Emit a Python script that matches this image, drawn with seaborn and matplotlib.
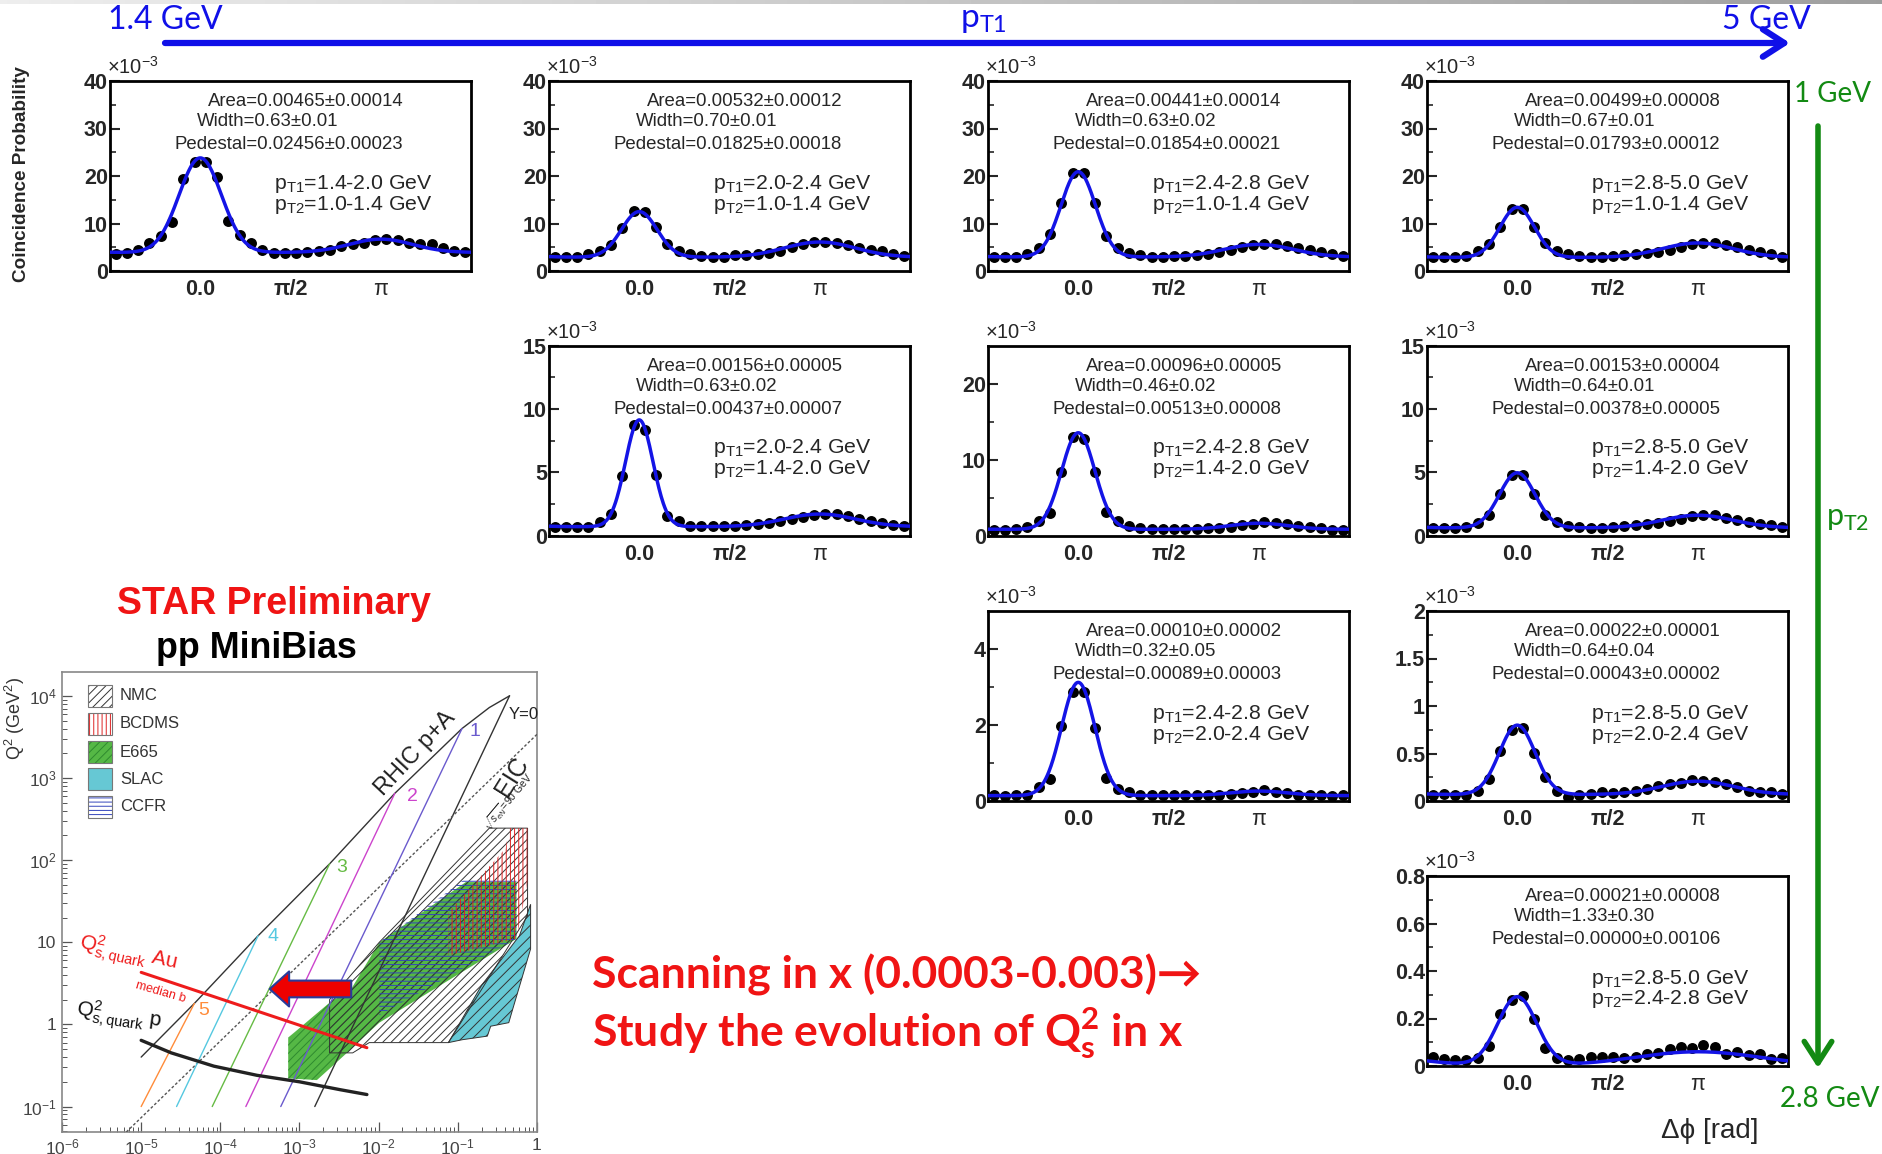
import numpy as np
import pandas as pd
import matplotlib
matplotlib.use("Agg")
import matplotlib.pyplot as plt
from matplotlib.patches import Rectangle
from matplotlib.ticker import LogLocator, NullFormatter
import seaborn as sns

# ------------------------------------------------------------------
# Di-hadron azimuthal correlations, pp minimum bias (values in 1e-3)
# ------------------------------------------------------------------
pt1_bins = ["1.4-2.0", "2.0-2.4", "2.4-2.8", "2.8-5.0",
            "2.0-2.4", "2.4-2.8", "2.8-5.0",
            "2.4-2.8", "2.8-5.0",
            "2.8-5.0"]
pt2_bins = ["1.0-1.4", "1.0-1.4", "1.0-1.4", "1.0-1.4",
            "1.4-2.0", "1.4-2.0", "1.4-2.0",
            "2.0-2.4", "2.0-2.4",
            "2.4-2.8"]
grid_row = [0, 0, 0, 0, 1, 1, 1, 2, 2, 3]
grid_col = [0, 1, 2, 3, 1, 2, 3, 2, 3, 3]

prob_14_20_x_10_14 = [3.6, 3.8, 4.5, 5.9, 7.3, 10.4, 19.4, 22.9, 22.9, 19.8, 10.6, 7.6, 6.0, 4.5, 3.7, 3.7,
                      3.7, 4.0, 4.2, 4.5, 5.2, 5.7, 6.0, 6.6, 6.7, 6.5, 6.0, 5.7, 5.6, 4.9, 4.3, 4.0]
prob_20_24_x_10_14 = [3.0, 2.9, 2.9, 3.5, 4.3, 5.4, 9.0, 12.7, 12.4, 9.2, 5.6, 4.3, 3.6, 3.1, 3.0, 3.0,
                      3.3, 3.3, 3.5, 3.8, 4.2, 5.0, 5.7, 6.1, 6.1, 5.9, 5.4, 4.9, 4.5, 4.2, 3.5, 3.1]
prob_24_28_x_10_14 = [3.0, 3.0, 3.0, 3.6, 4.9, 7.7, 14.3, 20.7, 20.7, 14.3, 7.3, 4.9, 3.7, 3.3, 3.0, 2.9,
                      3.1, 3.1, 3.3, 3.6, 4.0, 4.5, 5.0, 5.4, 5.7, 5.6, 5.2, 4.9, 4.5, 4.0, 3.5, 3.1]
prob_28_50_x_10_14 = [3.0, 3.0, 3.0, 3.1, 4.2, 5.7, 9.3, 13.1, 13.1, 9.3, 5.9, 4.2, 3.5, 3.1, 3.0, 3.0,
                      3.1, 3.3, 3.5, 3.7, 4.0, 4.5, 5.0, 5.7, 5.9, 5.8, 5.4, 5.1, 4.5, 4.0, 3.5, 3.0]
prob_20_24_x_14_20 = [0.65, 0.65, 0.65, 0.65, 1.1, 1.7, 4.7, 8.7, 8.35, 4.8, 1.57, 1.12, 0.78, 0.73, 0.73, 0.73,
                      0.78, 0.83, 0.91, 0.99, 1.12, 1.3, 1.43, 1.62, 1.7, 1.7, 1.57, 1.3, 1.17, 0.99, 0.86, 0.73]
prob_24_28_x_14_20 = [0.78, 0.74, 0.87, 1.09, 1.96, 2.96, 8.35, 12.96, 12.7, 8.35, 3.13, 1.96, 1.3, 0.96, 0.87, 0.87,
                      0.87, 0.87, 0.87, 0.96, 1.04, 1.17, 1.39, 1.52, 1.74, 1.65, 1.52, 1.3, 1.09, 0.96, 0.78, 0.74]
prob_28_50_x_14_20 = [0.6, 0.6, 0.6, 0.66, 1.0, 1.58, 3.3, 4.74, 4.74, 3.3, 1.63, 1.05, 0.74, 0.66, 0.6, 0.6,
                      0.66, 0.74, 0.79, 0.87, 1.0, 1.18, 1.32, 1.53, 1.63, 1.58, 1.39, 1.24, 1.1, 0.92, 0.79, 0.66]
prob_24_28_x_20_24 = [0.15, 0.13, 0.15, 0.17, 0.38, 0.57, 1.98, 2.88, 2.88, 1.92, 0.61, 0.32, 0.24, 0.17, 0.16, 0.16,
                      0.16, 0.16, 0.16, 0.17, 0.17, 0.19, 0.22, 0.24, 0.28, 0.24, 0.20, 0.17, 0.16, 0.15, 0.13, 0.15]
prob_28_50_x_20_24 = [0.063, 0.07, 0.063, 0.063, 0.11, 0.23, 0.53, 0.75, 0.77, 0.51, 0.25, 0.11, 0.04, 0.063, 0.07, 0.09,
                      0.08, 0.09, 0.105, 0.13, 0.16, 0.175, 0.186, 0.22, 0.21, 0.20, 0.175, 0.147, 0.11, 0.09, 0.09, 0.07]
prob_28_50_x_24_28 = [0.038, 0.028, 0.025, 0.025, 0.035, 0.086, 0.22, 0.28, 0.295, 0.20, 0.077, 0.035, 0.024, 0.028,
                      0.038, 0.038, 0.038, 0.032, 0.039, 0.049, 0.053, 0.07, 0.079, 0.077, 0.088, 0.079, 0.051, 0.06,
                      0.046, 0.049, 0.028, 0.035]
coincidence = [prob_14_20_x_10_14, prob_20_24_x_10_14, prob_24_28_x_10_14, prob_28_50_x_10_14,
               prob_20_24_x_14_20, prob_24_28_x_14_20, prob_28_50_x_14_20,
               prob_24_28_x_20_24, prob_28_50_x_20_24,
               prob_28_50_x_24_28]

area_val = [0.00465, 0.00532, 0.00441, 0.00499, 0.00156, 0.00096, 0.00153, 0.00010, 0.00022, 0.00021]
area_err = [0.00014, 0.00012, 0.00014, 0.00008, 0.00005, 0.00005, 0.00004, 0.00002, 0.00001, 0.00008]
width_val = [0.63, 0.70, 0.63, 0.67, 0.63, 0.46, 0.64, 0.32, 0.64, 1.33]
width_err = [0.01, 0.01, 0.02, 0.01, 0.02, 0.02, 0.01, 0.05, 0.04, 0.30]
pedestal_val = [0.02456, 0.01825, 0.01854, 0.01793, 0.00437, 0.00513, 0.00378, 0.00089, 0.00043, 0.00000]
pedestal_err = [0.00023, 0.00018, 0.00021, 0.00012, 0.00007, 0.00008, 0.00005, 0.00003, 0.00002, 0.00106]

# drawn fit-curve shape: near-side and away-side peaks on top of pedestal/2pi (1e-3, rad)
near_amp = [19.9, 9.6, 17.95, 10.55, 8.43, 12.7, 4.35, 2.98, 0.73, 0.29]
near_sigma = [0.37, 0.31, 0.30, 0.30, 0.24, 0.29, 0.31, 0.29, 0.31, 0.34]
away_amp = [2.8, 3.2, 2.65, 3.05, 1.0, 0.8, 1.0, 0.12, 0.14, 0.06]
away_sigma = [0.55, 0.62, 0.60, 0.62, 0.62, 0.50, 0.62, 0.50, 0.62, 1.10]

y_max = [40, 40, 40, 40, 15, 25, 15, 5, 2, 0.8]
y_major = [10, 10, 10, 10, 5, 10, 5, 2, 0.5, 0.2]

# ------------------------------------------------------------------
# Q^2 - x coverage inset
# ------------------------------------------------------------------
rhic_x = [1e-5, 4.7e-5, 3.0e-4, 2.4e-3, 1.6e-2, 0.113, 0.25, 0.45]
rhic_q2 = [0.4, 1.8, 12, 90, 650, 4000, 7200, 1.0e4]
ycut_x = [0.45, 1.56e-3]
ycut_q2 = [1.0e4, 0.1]
eic_x = [6.5e-6, 1.0]
eic_q2 = [0.049, 3400]
qs_au_x = [1e-5, 7.1e-3]
qs_au_q2 = [4.3, 0.52]
qs_p_x = [1e-5, 2.4e-5, 8.3e-5, 2.9e-4, 1e-3, 3.3e-3, 7.1e-3]
qs_p_q2 = [0.64, 0.45, 0.31, 0.24, 0.20, 0.16, 0.14]

rap_labels = ["1", "2", "3", "4", "5"]
rap_colors = ["#6a5acd", "#cc44cc", "#66bb44", "#55c8e0", "#ff8c3a"]
rap_x_top = [0.113, 0.016, 2.4e-3, 3.0e-4, 4.7e-5]
rap_q2_top = [4000, 650, 90, 12, 1.8]
rap_x_bot = [5.8e-4, 2.1e-4, 7.9e-5, 2.8e-5, 1.0e-5]
rap_q2_bot = [0.1, 0.1, 0.1, 0.1, 0.1]
rap_lab_x = [0.14, 0.0225, 2.9e-3, 4.0e-4, 5.2e-5]
rap_lab_q2 = [3700, 590, 81, 11.8, 1.46]

e665_x = [7.2e-4, 2.4e-3, 4.5e-3, 0.0102, 0.126, 0.55, 0.55, 0.0102, 2.6e-3, 1.66e-3, 7.2e-4]
e665_q2 = [0.69, 1.84, 2.7, 10, 54, 54, 11, 1.05, 0.31, 0.21, 0.22]
nmc_x = [2.4e-3, 4.7e-3, 7.6e-3, 0.076, 0.76, 0.76, 0.25, 0.0102, 2.4e-3]
nmc_q2 = [0.45, 0.45, 0.6, 0.6, 21, 245, 245, 10, 2.0]
bcdms_x = [0.076, 0.076, 0.40, 0.45, 0.76, 0.76, 0.55]
bcdms_q2 = [6.9, 23, 139, 245, 245, 54, 11]
ccfr_x = [0.0102, 0.126, 0.55, 0.55, 0.0102]
ccfr_q2 = [10, 60, 60, 11, 1.3]
slac_x = [0.076, 0.113, 0.236, 0.26, 0.44, 0.49, 0.83, 0.83, 0.6, 0.2]
slac_q2 = [0.6, 0.65, 0.72, 0.95, 1.05, 1.5, 8.3, 29, 12, 3.0]

# ------------------------------------------------------------------
W, H, DPI = 1883, 1154, 100
sns.set_theme(style="white")
plt.rcParams["font.family"] = ["Liberation Sans", "DejaVu Sans"]
plt.rcParams["mathtext.fontset"] = "custom"
plt.rcParams["mathtext.rm"] = "Liberation Sans"
plt.rcParams["mathtext.it"] = "Liberation Sans:italic"
plt.rcParams["mathtext.bf"] = "Lato:bold"
plt.rcParams["mathtext.sf"] = "Lato"
plt.rcParams["hatch.linewidth"] = 0.7

FIT_BLUE = "#1414e6"
SLIDE_BLUE = "#1010e8"
SLIDE_GREEN = "#138a13"
SLIDE_RED = "#f01414"

fig = plt.figure(figsize=(W / DPI, H / DPI), dpi=DPI)
fig.patch.set_facecolor("white")


def px_axes(left, top, w, h, **kw):
    return fig.add_axes([left / W, 1 - (top + h) / H, w / W, h / H], **kw)


PANEL_LEFT = [110, 549, 988, 1427]
PANEL_TOP = [81, 345.5, 611, 876]
PANEL_W, PANEL_H = 361, 190

edges = np.linspace(-np.pi / 2, 3 * np.pi / 2, 33)
dphi = 0.5 * (edges[:-1] + edges[1:])
curve_x = np.linspace(-np.pi / 2, 3 * np.pi / 2, 500)


def periodic_peak(x, mu, sig):
    return sum(np.exp(-0.5 * ((x - mu - 2 * np.pi * k) / sig) ** 2) for k in (-1, 0, 1))


for k in range(10):
    ax = px_axes(PANEL_LEFT[grid_col[k]], PANEL_TOP[grid_row[k]], PANEL_W, PANEL_H)
    base = pedestal_val[k] / (2 * np.pi) * 1e3
    fit = (base + near_amp[k] * periodic_peak(curve_x, 0.0, near_sigma[k])
           + away_amp[k] * periodic_peak(curve_x, np.pi, away_sigma[k]))
    pts = pd.DataFrame({"dphi": dphi, "prob": coincidence[k]})
    crv = pd.DataFrame({"dphi": curve_x, "prob": fit})
    sns.scatterplot(data=pts, x="dphi", y="prob", ax=ax, color="black", s=62,
                    linewidth=0, zorder=3)
    sns.lineplot(data=crv, x="dphi", y="prob", ax=ax, color=FIT_BLUE, lw=2.5,
                 zorder=4, estimator=None, sort=False)
    ax.set_xlim(-np.pi / 2, 3 * np.pi / 2)
    ax.set_ylim(0, y_max[k])
    ax.set_xlabel("")
    ax.set_ylabel("")
    for s in ax.spines.values():
        s.set_visible(True)
        s.set_linewidth(2.0)
        s.set_color("black")
    major = np.arange(0, y_max[k] + 1e-9, y_major[k])
    minor = np.arange(y_major[k] / 2, y_max[k], y_major[k])
    ax.set_yticks(major)
    ax.set_yticklabels([f"{v:g}" for v in major], fontweight="bold", fontsize=15.5)
    ax.set_yticks(minor, minor=True)
    ax.tick_params(axis="y", which="major", left=True, direction="in", length=7,
                   width=1.5, pad=1.5)
    ax.tick_params(axis="y", which="minor", left=True, direction="in", length=4, width=1.2)
    ax.set_xticks([0, np.pi / 2, np.pi])
    ax.set_xticklabels(["0.0", "π/2", "π"], fontsize=15.5)
    for lbl, wgt in zip(ax.get_xticklabels(), ["bold", "bold", "normal"]):
        lbl.set_fontweight(wgt)
    ax.tick_params(axis="x", length=0, pad=6)
    ax.annotate("×10$^{-3}$", xy=(0, 1), xycoords="axes fraction", xytext=(-2, 2),
                textcoords="offset points", ha="left", va="bottom", fontsize=14.5)
    ax.text(0.27, 0.89, f"Area={area_val[k]:.5f}±{area_err[k]:.5f}",
            transform=ax.transAxes, fontsize=13.4, va="center", ha="left")
    ax.text(0.24, 0.785, f"Width={width_val[k]:.2f}±{width_err[k]:.2f}",
            transform=ax.transAxes, fontsize=13.4, va="center", ha="left")
    ax.text(0.18, 0.665, f"Pedestal={pedestal_val[k]:.5f}±{pedestal_err[k]:.5f}",
            transform=ax.transAxes, fontsize=13.4, va="center", ha="left")
    ax.text(0.455, 0.46, r"p$_{\mathrm{T1}}$=" + pt1_bins[k] + " GeV",
            transform=ax.transAxes, fontsize=15.3, va="center", ha="left")
    ax.text(0.455, 0.35, r"p$_{\mathrm{T2}}$=" + pt2_bins[k] + " GeV",
            transform=ax.transAxes, fontsize=15.3, va="center", ha="left")

# ------------------------------------------------------------------
# Q^2 vs x inset
# ------------------------------------------------------------------
ins = px_axes(62, 672, 475, 460)
ins.set_xscale("log")
ins.set_yscale("log")
ins.set_xlim(1e-6, 1.0)
ins.set_ylim(10 ** -1.31, 10 ** 4.29)
ins.set_facecolor("white")
for s in ins.spines.values():
    s.set_visible(True)
    s.set_linewidth(1.2)
    s.set_color("#888888")

ins.fill(e665_x, e665_q2, facecolor="#55b845", edgecolor="#2f8a2f", hatch="////", lw=0, zorder=1)
ins.fill(slac_x, slac_q2, facecolor="#66c8d4", edgecolor="#333333", hatch="///", lw=0, zorder=1.5)
ins.fill(slac_x, slac_q2, facecolor="none", edgecolor="#333333", lw=0.7, zorder=1.6)
ins.fill(nmc_x, nmc_q2, facecolor="none", edgecolor="#333333", hatch="////", lw=0, zorder=2)
ins.fill(nmc_x, nmc_q2, facecolor="none", edgecolor="#333333", lw=0.7, zorder=2.1)
ins.fill(ccfr_x, ccfr_q2, facecolor="none", edgecolor="#3344bb", hatch="----", lw=0, zorder=2.5)
ins.fill(bcdms_x, bcdms_q2, facecolor="none", edgecolor="#dd2222", hatch="||||", lw=0, zorder=3)

ins.plot(rhic_x, rhic_q2, color="#333333", lw=1.0, zorder=4)
ins.plot(ycut_x, ycut_q2, color="#333333", lw=1.0, zorder=4)
ins.plot(eic_x, eic_q2, color="#555555", lw=1.0, ls=(0, (2, 1.5)), zorder=4)
for i in range(5):
    ins.plot([rap_x_top[i], rap_x_bot[i]], [rap_q2_top[i], rap_q2_bot[i]],
             color=rap_colors[i], lw=1.0, zorder=4)
    ins.text(rap_lab_x[i], rap_lab_q2[i], rap_labels[i], color=rap_colors[i],
             fontsize=14, ha="left", va="center", zorder=5)
ins.plot(qs_au_x, qs_au_q2, color="#ee1c1c", lw=2.2, zorder=5)
ins.plot(qs_p_x, qs_p_q2, color="#222222", lw=2.4, zorder=5)

ins.annotate("", xy=(4.2e-4, 2.7), xytext=(4.5e-3, 2.7),
             arrowprops=dict(arrowstyle="simple,head_length=1.0,head_width=1.8,tail_width=0.86",
                             fc="#ee0000", ec="#2a3a9a", lw=1.5, mutation_scale=14,
                             shrinkA=0, shrinkB=0), zorder=6)

ins.text(0.029, 1990, "RHIC p+A", fontsize=17, rotation=47, ha="center", va="center",
         color="#222222", zorder=5)
ins.text(0.44, 6000, "Y=0", fontsize=12, ha="left", va="center", color="#222222", zorder=5)
ins.text(0.49, 1030, "EIC", fontsize=18, rotation=58, ha="center", va="center",
         color="#222222", zorder=5)
ins.text(0.43, 508, r"$\sqrt{s_{eN}}$=90 GeV", fontsize=7.5, rotation=50, ha="center",
         va="center", color="#222222", zorder=5)
ins.text(1.6e-6, 8.5, r"Q$^{2}_{\mathrm{s,quark}}$ Au", fontsize=15, rotation=-12,
         rotation_mode="anchor", ha="left", va="baseline", color="#ee1c1c", zorder=5)
ins.text(1.74e-5, 2.44, "median b", fontsize=9, rotation=-16, ha="center", va="center",
         color="#ee1c1c", zorder=5)
ins.text(1.5e-6, 1.3, r"Q$^{2}_{\mathrm{s,quark}}$ p", fontsize=15, rotation=-8,
         rotation_mode="anchor", ha="left", va="baseline", color="#111111", zorder=5)

legend_names = ["NMC", "BCDMS", "E665", "SLAC", "CCFR"]
legend_fc = ["white", "white", "#55b845", "#66c8d4", "white"]
legend_hc = ["#333333", "#dd2222", "#2f8a2f", "#66c8d4", "#3344bb"]
legend_hatch = ["////", "||||", "////", None, "----"]
legend_y = [0.948, 0.887, 0.826, 0.767, 0.707]
for name, fc, hc, hat, yy in zip(legend_names, legend_fc, legend_hc, legend_hatch, legend_y):
    ins.add_patch(Rectangle((0.054, yy - 0.024), 0.051, 0.048, transform=ins.transAxes,
                            facecolor=fc, edgecolor=hc, hatch=hat, lw=0, zorder=6))
    ins.add_patch(Rectangle((0.054, yy - 0.024), 0.051, 0.048, transform=ins.transAxes,
                            facecolor="none", edgecolor="#777777", lw=0.8, zorder=6.1))
    ins.text(0.122, yy, name, transform=ins.transAxes, fontsize=12, color="#333333",
             ha="left", va="center", zorder=6)

ins.set_xticks([1e-6, 1e-5, 1e-4, 1e-3, 1e-2, 1e-1, 1.0])
ins.set_xticklabels([r"$10^{-6}$", r"$10^{-5}$", r"$10^{-4}$", r"$10^{-3}$", r"$10^{-2}$",
                     r"$10^{-1}$", "1"], fontsize=12.5, color="#444444")
ins.set_yticks([1e-1, 1, 10, 1e2, 1e3, 1e4])
ins.set_yticklabels([r"$10^{-1}$", "1", "10", r"$10^{2}$", r"$10^{3}$", r"$10^{4}$"],
                    fontsize=12.5, color="#444444")
ins.xaxis.set_minor_locator(LogLocator(base=10, subs=np.arange(2, 10), numticks=20))
ins.yaxis.set_minor_locator(LogLocator(base=10, subs=np.arange(2, 10), numticks=20))
ins.xaxis.set_minor_formatter(NullFormatter())
ins.yaxis.set_minor_formatter(NullFormatter())
ins.tick_params(which="major", direction="in", length=7, width=0.9, color="#555555",
                left=True, bottom=True, pad=4)
ins.tick_params(which="minor", direction="in", length=3.5, width=0.7, color="#555555",
                left=True, bottom=True)
ins.text(-0.1, 0.9, r"Q$^{2}$ (GeV$^{2}$)", transform=ins.transAxes, fontsize=13,
         color="#333333", rotation=90, ha="center", va="center")

# ------------------------------------------------------------------
# Slide annotations
# ------------------------------------------------------------------
ov = fig.add_axes([0, 0, 1, 1], zorder=10)
ov.set_axis_off()
ov.patch.set_alpha(0)
ov.imshow(np.linspace(0.93, 0.62, 256)[None, :], cmap="gray", vmin=0, vmax=1,
          extent=(0, W, 4, 0), aspect="auto")
ov.set_xlim(0, W)
ov.set_ylim(H, 0)

ov.annotate("", xy=(1790, 43), xytext=(165, 43),
            arrowprops=dict(arrowstyle="->,head_length=0.7,head_width=0.45", color=SLIDE_BLUE,
                            lw=4.5, mutation_scale=22, shrinkA=0, shrinkB=0))
ov.text(108, 20, "1.4 GeV", fontsize=23, family=["Lato", "DejaVu Sans"], color=SLIDE_BLUE,
        ha="left", va="center")
ov.text(960, 20, r"p$_{\mathsf{T1}}$", fontsize=24, family=["Lato", "DejaVu Sans"],
        color=SLIDE_BLUE, ha="left", va="center")
ov.text(1811, 20, "5 GeV", fontsize=23, family=["Lato", "DejaVu Sans"], color=SLIDE_BLUE,
        ha="right", va="center")

ov.annotate("", xy=(1818, 1068), xytext=(1818, 126),
            arrowprops=dict(arrowstyle="->,head_length=0.7,head_width=0.45", color=SLIDE_GREEN,
                            lw=4.0, mutation_scale=22, shrinkA=0, shrinkB=0))
ov.text(1833, 94, "1 GeV", fontsize=20, family=["Lato", "DejaVu Sans"], color=SLIDE_GREEN,
        ha="center", va="center")
ov.text(1826, 519, r"p$_{\mathsf{T2}}$", fontsize=22, family=["Lato", "DejaVu Sans"],
        color=SLIDE_GREEN, ha="left", va="center")
ov.text(1880, 1099, "2.8 GeV", fontsize=20, family=["Lato", "DejaVu Sans"], color=SLIDE_GREEN,
        ha="right", va="center")

ov.text(22, 174, "Coincidence Probability", fontsize=13.6, fontweight="bold", rotation=90,
        ha="center", va="center")
ov.text(1661, 1131, "Δϕ [rad]", fontsize=20, family=["Liberation Sans", "DejaVu Sans"],
        ha="left", va="center")

ov.text(274, 604, "STAR Preliminary", fontsize=27, fontweight="bold", color=SLIDE_RED,
        ha="center", va="center")
ov.text(256, 648, "pp MiniBias", fontsize=25.8, fontweight="bold", color="black",
        ha="center", va="center")

ov.text(592, 975, "Scanning in x (0.0003-0.003)→", fontsize=32, fontweight="bold",
        family=["Lato", "DejaVu Sans"], color=SLIDE_RED, ha="left", va="center")
ov.text(592, 1033, r"Study the evolution of Q$_{\mathbf{s}}^{\mathbf{2}}$ in x", fontsize=32,
        fontweight="bold", family=["Lato", "DejaVu Sans"], color=SLIDE_RED, ha="left",
        va="center")

fig.savefig("out.png", dpi=DPI, facecolor="white")
